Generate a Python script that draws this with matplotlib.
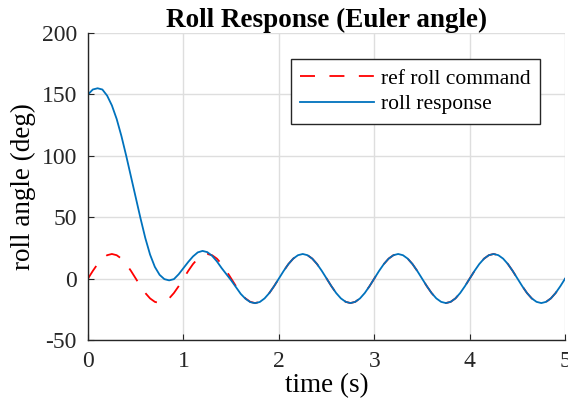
import numpy as np
import matplotlib.pyplot as plt

plt.rcParams['font.family'] = ['Liberation Serif', 'DejaVu Serif']
plt.rcParams['axes.unicode_minus'] = False

# time vector (s), 0.05 s spacing
t = np.linspace(0, 5, 101)

# reference roll command (deg)
ref_roll = [0, 6.2, 11.8, 16.2, 19.0, 20, 19.0, 16.2, 11.8, 6.2,
            0, -6.2, -11.8, -16.2, -19.0, -20, -19.0, -16.2, -11.8, -6.2,
            0, 6.2, 11.8, 16.2, 19.0, 20, 19.0, 16.2, 11.8, 6.2,
            0, -6.2, -11.8, -16.2, -19.0, -20, -19.0, -16.2, -11.8, -6.2,
            0, 6.2, 11.8, 16.2, 19.0, 20, 19.0, 16.2, 11.8, 6.2,
            0, -6.2, -11.8, -16.2, -19.0, -20, -19.0, -16.2, -11.8, -6.2,
            0, 6.2, 11.8, 16.2, 19.0, 20, 19.0, 16.2, 11.8, 6.2,
            0, -6.2, -11.8, -16.2, -19.0, -20, -19.0, -16.2, -11.8, -6.2,
            0, 6.2, 11.8, 16.2, 19.0, 20, 19.0, 16.2, 11.8, 6.2,
            0, -6.2, -11.8, -16.2, -19.0, -20, -19.0, -16.2, -11.8, -6.2,
            0]

# actual roll response (deg)
roll_resp = [150, 154, 155, 154, 149, 141, 130, 116, 100, 83,
             66, 49, 33, 19.5, 9.5, 3, -0.5, -1.5, -0.5, 3.5,
             8.5, 13.5, 18, 21.3, 22.5, 21.5, 18.5, 14, 8.5, 3.5,
             -1.5, -7, -12.5, -16.5, -19.2, -20.1, -19.1, -16.2, -11.8, -6.2,
             0, 6.2, 11.8, 16.2, 19.0, 20, 19.0, 16.2, 11.8, 6.2,
             0, -6.2, -11.8, -16.2, -19.0, -20, -19.0, -16.2, -11.8, -6.2,
             0, 6.2, 11.8, 16.2, 19.0, 20, 19.0, 16.2, 11.8, 6.2,
             0, -6.2, -11.8, -16.2, -19.0, -20, -19.0, -16.2, -11.8, -6.2,
             0, 6.2, 11.8, 16.2, 19.0, 20, 19.0, 16.2, 11.8, 6.2,
             0, -6.2, -11.8, -16.2, -19.0, -20, -19.0, -16.2, -11.8, -6.2,
             0]

fig = plt.figure(figsize=(5.68, 4.13), dpi=100)
ax = fig.add_axes([0.155, 0.177, 0.84, 0.743])

ax.plot(t, ref_roll, '--', color='#ff0000', lw=1.3, dashes=(8.3, 8), label='ref roll command')
ax.plot(t, roll_resp, '-', color='#0072bd', lw=1.3, label='roll response')

ax.set_xlim(0, 5)
ax.set_ylim(-50, 200)
ax.set_xticks([0, 1, 2, 3, 4, 5])
ax.set_yticks([-50, 0, 50, 100, 150, 200])
ax.grid(True, color='#dedede', lw=1)
ax.set_axisbelow(True)
for s in ['top', 'right']:
    ax.spines[s].set_visible(False)
for s in ['left', 'bottom']:
    ax.spines[s].set_color('#262626')
    ax.spines[s].set_linewidth(1.0)
ax.tick_params(direction='in', length=4, labelsize=17, colors='#262626')
ax.tick_params(axis='x', pad=8)
ax.tick_params(axis='y', pad=8)

ax.set_xlabel('time (s)', fontsize=19.5, labelpad=1)
ax.set_ylabel('roll angle (deg)', fontsize=19.5, labelpad=4)
ax.set_title('Roll Response (Euler angle)', fontsize=19.5, fontweight='bold', pad=3)

leg = ax.legend(loc='upper right', bbox_to_anchor=(0.948, 0.915), borderaxespad=0,
                fancybox=False, framealpha=1, edgecolor='#262626', fontsize=15.5,
                handlelength=3.4, handletextpad=0.35, labelspacing=0.25,
                borderpad=0.45)
leg.get_frame().set_linewidth(1.0)

fig.savefig('out.png', dpi=100)
